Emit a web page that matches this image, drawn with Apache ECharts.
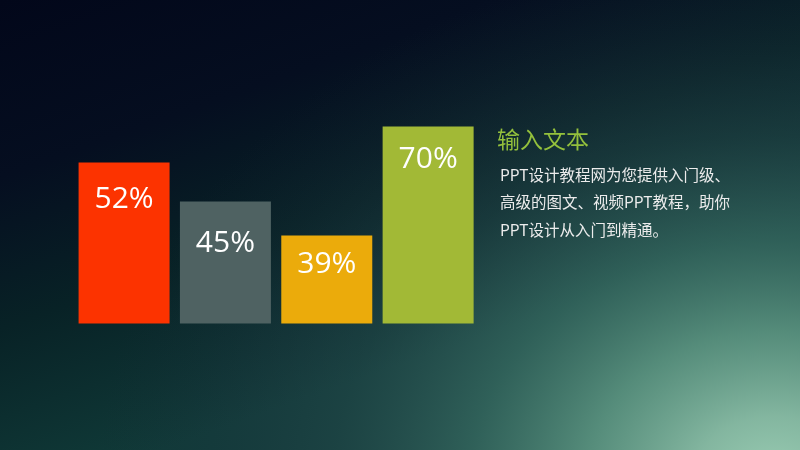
<!DOCTYPE html>
<html>
<head>
<meta charset="utf-8">
<script src="https://cdn.jsdelivr.net/npm/echarts@6/dist/echarts.min.js"></script>
<style>
html,body{margin:0;padding:0;width:800px;height:450px;overflow:hidden;background:#07101c;}
#chart{width:800px;height:450px;}
</style>
</head>
<body>
<div id="chart"></div>
<script>
// Data
const categories = ['A', 'B', 'C', 'D'];
const percentages = [52, 45, 39, 70];          // label values shown on the bars
const barHeights = [161, 122, 88, 197];        // drawn bar heights (picture units)
const titleText = '输入文本';
const bodyLines = ['PPT设计教程网为您提供入门级、', '高级的图文、视频PPT教程，助你', 'PPT设计从入门到精通。'];

// Styling
const barColors = ['#fc3300', '#4f6262', '#ebab0b', '#a2b936'];
const labelGaps = [22, 27, 14, 18];

const chart = echarts.init(document.getElementById('chart'), null, {renderer: 'canvas'});
const glow = new echarts.graphic.RadialGradient(775, 480, 680, [
  {offset: 0, color: 'rgba(155,205,180,1)'},
  {offset: 0.12, color: 'rgba(135,186,163,0.97)'},
  {offset: 0.28, color: 'rgba(95,152,132,0.87)'},
  {offset: 0.45, color: 'rgba(62,114,104,0.68)'},
  {offset: 0.65, color: 'rgba(46,80,84,0.38)'},
  {offset: 0.85, color: 'rgba(40,56,74,0.14)'},
  {offset: 1, color: 'rgba(30,40,60,0)'}
], true);
chart.setOption({
  backgroundColor: {
    type: 'linear', x: 0, y: 0, x2: 0.2, y2: 1,
    colorStops: [
      {offset: 0, color: '#02071a'},
      {offset: 0.35, color: '#050e20'},
      {offset: 0.65, color: '#082226'},
      {offset: 1, color: '#103a38'}
    ]
  },
  animation: false,
  grid: {left: 73.4, width: 405.4, top: 123.5, bottom: 126.5},
  xAxis: {
    type: 'category', data: categories,
    axisLine: {show: false}, axisTick: {show: false}, axisLabel: {show: false}, splitLine: {show: false}
  },
  yAxis: {
    type: 'value', min: 0, max: 200,
    axisLine: {show: false}, axisTick: {show: false}, axisLabel: {show: false}, splitLine: {show: false}
  },
  series: [{
    type: 'bar',
    barWidth: 91,
    data: barHeights.map((h, i) => ({
      value: h,
      itemStyle: {color: barColors[i]},
      label: {distance: labelGaps[i]}
    })),
    label: {
      show: true,
      position: 'insideTop',
      color: '#ffffff',
      fontSize: 30,
      fontFamily: '"Open Sans", "Noto Sans", sans-serif',
      formatter: p => percentages[p.dataIndex] + '%'
    }
  }],
  graphic: [
    {
      type: 'rect', z: -10, silent: true,
      originX: 775, originY: 480, scaleY: 0.78,
      shape: {x: 0, y: -150, width: 800, height: 650},
      style: {fill: glow}
    },
    {
      type: 'text', left: 497, top: 128,
      style: {
        text: titleText, fill: '#94c13c', fontSize: 23,
        fontFamily: '"Noto Sans CJK SC", sans-serif'
      }
    },
    {
      type: 'text', left: 500, top: 161,
      style: {
        text: bodyLines.join('\n'), fill: '#ececec', fontSize: 15.5, lineHeight: 27.5,
        fontFamily: '"Noto Sans CJK SC", sans-serif'
      }
    }
  ]
});
</script>
</body>
</html>
